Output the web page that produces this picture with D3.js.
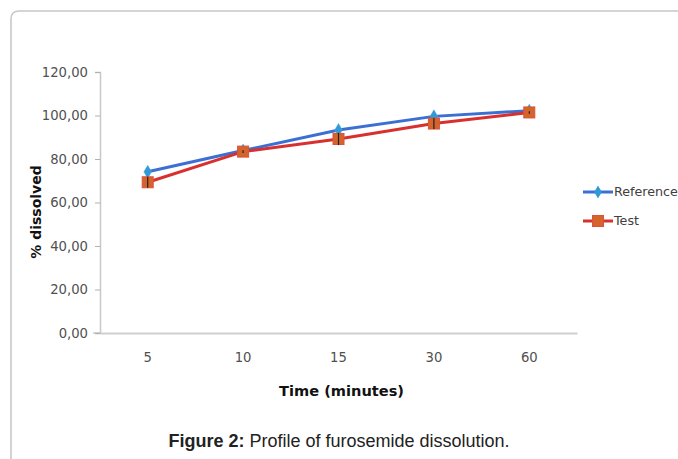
<!DOCTYPE html>
<html>
<head>
<meta charset="utf-8">
<script src="https://cdn.jsdelivr.net/npm/d3@7"></script>
<style>
  html, body { margin: 0; padding: 0; background: #ffffff; }
  svg { display: block; }
</style>
</head>
<body>
<svg id="chart" width="678" height="459"></svg>
<script>
const categories = ["5", "10", "15", "30", "60"];
const referenceValues = [74.1, 83.9, 93.3, 99.6, 102.2];
const testValues = [69.3, 83.4, 89.2, 96.3, 101.4];
const testErrors = [2.5, 0.6, 2.8, 2.5, 0.6];
const yTicks = [0, 20, 40, 60, 80, 100, 120];
const seriesNames = ["Reference", "Test"];

(function () {
const svg = d3.select("#chart");

svg.append("path")
  .attr("d", "M11,470 L11,19 Q11,11 19,11 L690,11")
  .attr("fill", "none").attr("stroke", "#c8c8c8").attr("stroke-width", 1.6);

const mLeft = 100, mRight = 577, mTop = 72, mBottom = 333;
const x = d3.scaleBand().domain(categories).range([mLeft, mRight]);
const y = d3.scaleLinear().domain([0, 120]).range([mBottom, mTop]);

const fmt = v => d3.format(".2f")(v).replace(".", ",");

const yAxis = svg.append("g").attr("transform", `translate(${mLeft},0)`)
  .call(d3.axisLeft(y).tickValues(yTicks).tickSize(5).tickFormat(fmt));
yAxis.select(".domain").attr("stroke", "#c8c8c8").attr("stroke-width", 1.5);
yAxis.selectAll(".tick line").attr("stroke", "#b0b0b0");
yAxis.selectAll(".tick text")
  .attr("x", -12)
  .attr("fill", "#505050").attr("font-family", "DejaVu Sans").attr("font-size", 13.2);

const xAxis = svg.append("g").attr("transform", `translate(0,${mBottom})`)
  .call(d3.axisBottom(x).tickSize(0).tickPadding(20));
xAxis.select(".domain").attr("stroke", "#cfcfcf").attr("stroke-width", 2);
xAxis.selectAll(".tick text")
  .attr("fill", "#505050").attr("font-family", "DejaVu Sans").attr("font-size", 13.2);
svg.append("line").attr("x1", mLeft - 7).attr("x2", mLeft).attr("y1", mBottom).attr("y2", mBottom)
  .attr("stroke", "#b0b0b0");

svg.append("text").attr("x", (mLeft + mRight) / 2 + 3).attr("y", 396)
  .attr("text-anchor", "middle").attr("font-family", "DejaVu Sans").attr("font-weight", "bold")
  .attr("font-size", 14.6).attr("fill", "#111").text("Time (minutes)");
svg.append("text").attr("transform", "translate(41,212) rotate(-90)")
  .attr("text-anchor", "middle").attr("font-family", "DejaVu Sans").attr("font-weight", "bold")
  .attr("font-size", 14).attr("fill", "#111").text("% dissolved");

const cx = c => x(c) + x.bandwidth() / 2;
const line = d3.line().x((d, i) => cx(categories[i])).y(d => y(d));

const refColor = "#3b6fd4", refMarker = "#2f9ad6";
const testColor = "#d8302e", testMarker = "#d2642c";

svg.append("path").datum(referenceValues).attr("d", line)
  .attr("fill", "none").attr("stroke", refColor).attr("stroke-width", 3);
svg.append("path").datum(testValues).attr("d", line)
  .attr("fill", "none").attr("stroke", testColor).attr("stroke-width", 3);

const diamond = d3.symbol().type(d3.symbolDiamond).size(50);
svg.selectAll(".refm").data(referenceValues).join("path")
  .attr("transform", (d, i) => `translate(${cx(categories[i])},${y(d)})`)
  .attr("d", diamond).attr("fill", refMarker).attr("stroke", "#4aa8e0").attr("stroke-width", 0.5);
svg.selectAll(".testm").data(testValues).join("rect")
  .attr("x", (d, i) => cx(categories[i]) - 5.5).attr("y", d => y(d) - 5.5)
  .attr("width", 11).attr("height", 11)
  .attr("fill", testMarker).attr("stroke", "#e0503a").attr("stroke-width", 1);

svg.selectAll(".err").data(testValues).join("line")
  .attr("x1", (d, i) => cx(categories[i])).attr("x2", (d, i) => cx(categories[i]))
  .attr("y1", (d, i) => y(d + testErrors[i])).attr("y2", (d, i) => y(d - testErrors[i]))
  .attr("stroke", "#222").attr("stroke-width", 1.2);

const legY = [192, 221];
seriesNames.forEach((name, i) => {
  const g = svg.append("g");
  g.append("line").attr("x1", 583).attr("x2", 613).attr("y1", legY[i]).attr("y2", legY[i])
    .attr("stroke", i === 0 ? refColor : testColor).attr("stroke-width", 3);
  if (i === 0) {
    g.append("path").attr("transform", `translate(598,${legY[i]})`).attr("d", diamond)
      .attr("fill", refMarker);
  } else {
    g.append("rect").attr("x", 592.5).attr("y", legY[i] - 5.5).attr("width", 11).attr("height", 11)
      .attr("fill", testMarker).attr("stroke", "#e0503a");
  }
  g.append("text").attr("x", 614).attr("y", legY[i]).attr("dy", "0.35em")
    .attr("font-family", "DejaVu Sans").attr("font-size", 12.7).attr("fill", "#404040").text(name);
});

const cap = svg.append("text").attr("x", 339).attr("y", 447).attr("text-anchor", "middle")
  .attr("font-family", "Liberation Sans, Arial, sans-serif").attr("font-size", 18).attr("fill", "#222");
cap.append("tspan").attr("font-weight", "bold").text("Figure 2:");
cap.append("tspan").text(" Profile of furosemide dissolution.");
})();
</script>
</body>
</html>
